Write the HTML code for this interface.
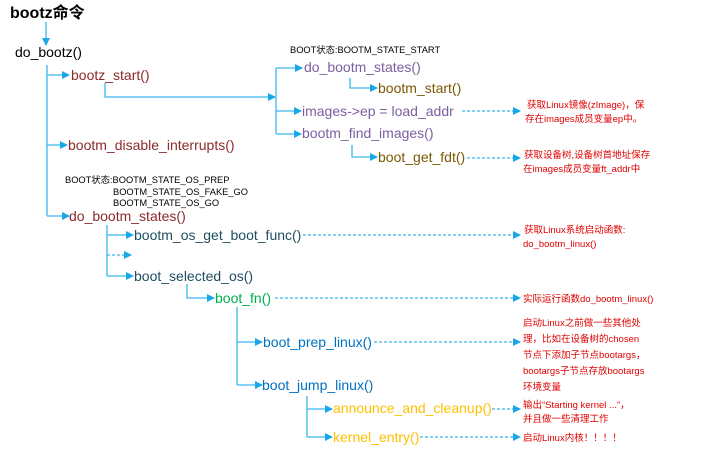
<!DOCTYPE html>
<html><head><meta charset="utf-8"><style>
html,body{margin:0;padding:0;background:#fff;}
svg{display:block;}
text{font-family:"Liberation Sans","Noto Sans CJK SC",sans-serif;}
.m{font-size:14px;}
.s{font-size:9.3px;fill:#000;}
.r{font-size:9.5px;fill:#e00000;}
</style></head><body>
<svg width="719" height="449" viewBox="0 0 719 449" xmlns="http://www.w3.org/2000/svg">
<defs><marker id="a" markerWidth="8" markerHeight="8" refX="7" refY="4" orient="auto" markerUnits="userSpaceOnUse"><path d="M0,0 L8,4 L0,8 z" fill="#1aa7e8"/></marker></defs>
<g stroke="#3bb6ee" stroke-width="1.3" fill="none">
<path d="M46,22 V45" marker-end="url(#a)"/>
<path d="M47,65 V216"/>
<path d="M47,75 H69" marker-end="url(#a)"/>
<path d="M47,145 H67" marker-end="url(#a)"/>
<path d="M47,216 H69" marker-end="url(#a)"/>
<path d="M105,83 V97 H275" marker-end="url(#a)"/>
<path d="M276,68 V134"/>
<path d="M276,68 H302" marker-end="url(#a)"/>
<path d="M276,111 H301" marker-end="url(#a)"/>
<path d="M276,134 H301" marker-end="url(#a)"/>
<path d="M350,78 V88 H377" marker-end="url(#a)"/>
<path d="M352,145 V157 H377" marker-end="url(#a)"/>
<path d="M107,225 V276"/>
<path d="M107,235 H133" marker-end="url(#a)"/>
<path d="M107,276 H133" marker-end="url(#a)"/>
<path d="M187,284 V298 H214" marker-end="url(#a)"/>
<path d="M237,307 V385"/>
<path d="M237,342 H262" marker-end="url(#a)"/>
<path d="M237,385 H262" marker-end="url(#a)"/>
<path d="M307,396 V437"/>
<path d="M307,409 H332" marker-end="url(#a)"/>
<path d="M307,437 H332" marker-end="url(#a)"/>
</g>
<g stroke="#3bb6ee" stroke-width="1.2" fill="none" stroke-dasharray="3,2">
<path d="M107,255 H131" marker-end="url(#a)"/>
<path d="M462,111 H520" marker-end="url(#a)"/>
<path d="M467,158 H520" marker-end="url(#a)"/>
<path d="M303,235 H520" marker-end="url(#a)"/>
<path d="M275,298 H520" marker-end="url(#a)"/>
<path d="M374,342 H520" marker-end="url(#a)"/>
<path d="M492,409 H520" marker-end="url(#a)"/>
<path d="M420,437 H520" marker-end="url(#a)"/>
</g>
<text x="10" y="18" style="font-size:16px;font-weight:bold">bootz命令</text>
<text x="15" y="57" class="m" fill="#000">do_bootz()</text>
<text x="71" y="80" class="m" fill="#8b2a2a">bootz_start()</text>
<text x="68" y="150" class="m" fill="#8b2a2a">bootm_disable_interrupts()</text>
<text x="69" y="221" class="m" fill="#8b2a2a">do_bootm_states()</text>
<text x="290" y="53" class="s">BOOT状态:BOOTM_STATE_START</text>
<text x="304" y="72" class="m" fill="#7a5fa0">do_bootm_states()</text>
<text x="378" y="93" class="m" fill="#7a5a00">bootm_start()</text>
<text x="302" y="116" class="m" fill="#7a5fa0">images-&gt;ep = load_addr</text>
<text x="302" y="138" class="m" fill="#7a5fa0">bootm_find_images()</text>
<text x="378" y="162" class="m" fill="#7a5a00">boot_get_fdt()</text>
<text x="65" y="183" class="s">BOOT状态:BOOTM_STATE_OS_PREP</text>
<text x="113" y="195" class="s">BOOTM_STATE_OS_FAKE_GO</text>
<text x="113" y="206" class="s">BOOTM_STATE_OS_GO</text>
<text x="134" y="240" class="m" fill="#1f4e5f">bootm_os_get_boot_func()</text>
<text x="134" y="281" class="m" fill="#1f4e5f">boot_selected_os()</text>
<text x="215" y="303" class="m" fill="#00b050">boot_fn()</text>
<text x="263" y="347" class="m" fill="#0070c0">boot_prep_linux()</text>
<text x="262" y="390" class="m" fill="#0070c0">boot_jump_linux()</text>
<text x="333" y="413" class="m" fill="#ffc000">announce_and_cleanup()</text>
<text x="333" y="442" class="m" fill="#ffc000">kernel_entry()</text>
<text x="527" y="108" class="r">获取Linux镜像(zImage)，保</text>
<text x="525" y="122" class="r">存在images成员变量ep中。</text>
<text x="524" y="158" class="r">获取设备树,设备树首地址保存</text>
<text x="523" y="172" class="r">在images成员变量ft_addr中</text>
<text x="524" y="233" class="r">获取Linux系统启动函数:</text>
<text x="523" y="247" class="r">do_bootm_linux()</text>
<text x="523" y="302" class="r">实际运行函数do_bootm_linux()</text>
<text x="523" y="326" class="r">启动Linux之前做一些其他处</text>
<text x="523" y="342" class="r">理，比如在设备树的chosen</text>
<text x="523" y="358" class="r">节点下添加子节点bootargs，</text>
<text x="523" y="374" class="r">bootargs子节点存放bootargs</text>
<text x="523" y="390" class="r">环境变量</text>
<text x="523" y="408" class="r">输出“Starting kernel ...”，</text>
<text x="523" y="422" class="r">并且做一些清理工作</text>
<text x="523" y="441" class="r">启动Linux内核！！！！</text>
</svg>
</body></html>
